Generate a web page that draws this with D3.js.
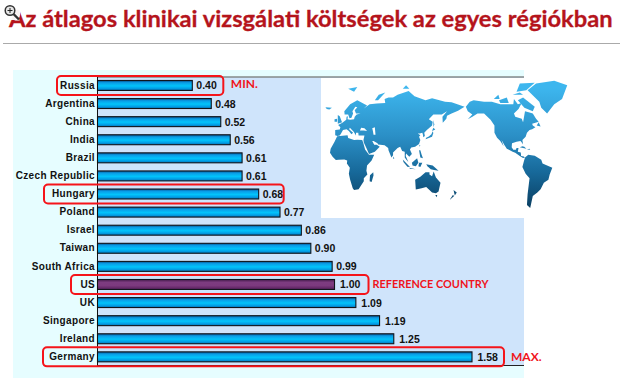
<!DOCTYPE html>
<html><head><meta charset="utf-8">
<script src="https://cdn.jsdelivr.net/npm/d3@7/dist/d3.min.js"></script>
<style>html,body{margin:0;background:#fff}svg{display:block}</style></head>
<body><svg id="c" width="620" height="381"></svg>
<script>
const titleText = "Az átlagos klinikai vizsgálati költségek az egyes régiókban";
const categories = ["Russia","Argentina","China","India","Brazil","Czech Republic","Hungary","Poland","Israel","Taiwan","South Africa","US","UK","Singapore","Ireland","Germany"];
const values = [0.40,0.48,0.52,0.56,0.61,0.61,0.68,0.77,0.86,0.90,0.99,1.00,1.09,1.19,1.25,1.58];
const referenceCountry = "US";
const highlighted = ["Russia","Hungary","US","Germany"];
const notes = {Russia:"MIN.",US:"REFERENCE COUNTRY",Germany:"MAX."};

// rough coastlines, [longitude, latitude]
const easternLand = [
 [[-9,37],[-9,43],[-2,43.5],[-1,46],[-4.5,48.5],[2,51],[8,54],[8.5,57],[10.5,57.5],[10,54.5],[14,54],[20,54.5],[21,57],[24,59],[30,60],[23,60],[21,63],[25,65.5],[22,65.8],[17.5,62],[18.5,60],[16,56],[13,55.5],[11,59],[5.5,59],[5,62],[14,68],[25,71],[40,67],[35,64.5],[44,68],[55,68.5],[68,69],[67,72],[73,73],[80,73],[87,75],[104,77.5],[113,74],[130,71],[140,72.5],[160,70],[170,69.5],[190,66],[180,62.5],[170,60],[163,58],[162,55],[156.5,51],[156,57],[163,62],[155,59],[142,59],[135,54.5],[141,52],[140,48],[132,43],[128,40],[129,36],[126.5,34.5],[126,37.5],[125,40],[121,39],[118,39],[122,37],[120,35],[122,31],[120,26],[114,22.5],[108,21.5],[106,19],[109,13],[105,9],[100,13.5],[99.5,10],[103.5,2],[100.5,5],[98,8],[98,16],[94,17],[91,22.5],[87,21],[80,15],[80,11],[77.5,8],[73,18],[72.5,21],[67,24.5],[57,25.5],[56,27],[50,30],[48,30],[51,25],[55,25],[59.5,22.5],[52,16],[43,12.8],[39,21],[35,28],[34.5,31],[36,36.5],[27,36.5],[26.5,40],[23,40],[23,36.5],[19.5,41],[13.5,45.5],[12.5,44],[18.5,40],[16,38],[12,42],[8.5,44],[3,43],[0,39],[-2,36.7],[-5.5,36]],
 [[-6,35.8],[10,37],[11,33.5],[20,31],[25,31.5],[32.5,31],[34,28],[37,19],[43,12],[51,12],[47,4],[40,-3],[39,-10],[40.5,-15],[35,-20],[35,-24],[32,-28],[27,-34],[20,-35],[18,-33],[14,-22],[12,-14],[13.5,-6],[9,0],[9.5,4],[5,5.5],[-4,5],[-8,4.5],[-13,9],[-17,14.5],[-16,20],[-10,29]],
 [[114,-22],[122,-18],[130,-12],[136,-12],[136,-15],[140,-17.5],[142.5,-11],[146,-19],[153,-26],[150,-37],[146,-39],[140,-38],[136,-35],[131,-31.5],[124,-33],[115,-34.5]],
 [[49.5,-12],[50,-16],[47,-25],[44,-24],[44.5,-16]],
 [[130,32],[135,33.5],[140,35],[142,39.5],[141,41.5],[139,38],[135,35.5],[131,34]],
 [[140,42],[145,43.5],[142,45.5]],
 [[142,54],[143.5,49],[142,46],[142,50]],
 [[-5,50],[1.5,51.5],[0,54],[-2,57.5],[-5,58.5],[-5,54]],
 [[-10,52],[-6,52],[-6,55],[-10,54.5]],
 [[-24,65.5],[-14,65],[-18,63.5],[-22,64]],
 [[11,79],[25,80],[20,77]],
 [[52,71],[57,71],[68,76.5],[58,75]],
 [[95,79],[105,79],[100,81]],
 [[95,5.5],[106,-5],[102,-4.5],[96,2]],
 [[105,-6],[115,-8],[106,-7.5]],
 [[109,1],[117,7],[119,1],[115,-4],[110,-3]],
 [[120,1],[125,1],[122,-5],[119,-4]],
 [[131,-1],[141,-3],[150,-10],[143,-9],[138,-8],[133,-4]],
 [[120,18],[122,18],[124,12],[126,7],[122,8],[121,13]],
 [[121,25],[122,24],[120,22.5]],
 [[80,9.5],[82,7],[80.5,6]],
 [[145,-41],[148,-41],[147,-43.5]],
 [[173,-35],[178,-38],[175,-41.5]],
 [[172,-41],[174,-42],[167,-46.5]]
];
const westernLand = [
 [[-168,66],[-162,70],[-156,71],[-140,70],[-128,70],[-115,68],[-95,68],[-94,72],[-88,68],[-82,69],[-87,64],[-94,60],[-92,57],[-82,55],[-80,51.5],[-79,55],[-77,62],[-70,61],[-65,60],[-60,55],[-56,52],[-66,50],[-65,48],[-61,46],[-66,44],[-70,43],[-74,40],[-76,35],[-81,31],[-80,25.5],[-82,28],[-84,30],[-90,29],[-97,27],[-97.5,22],[-95,18.5],[-91,18.5],[-90,21],[-87,21],[-88,16],[-83.5,15],[-83,10],[-79,9.5],[-77,8],[-80,7.5],[-85,10],[-92,14.5],[-96,16],[-105,20],[-109,25],[-113,31],[-110,23],[-115,30],[-120,34],[-124,40],[-124,48],[-130,54],[-140,60],[-150,60],[-158,57],[-165,54.5],[-158,59],[-165,62]],
 [[-77,8],[-72,12],[-62,10.5],[-52,5],[-50,0],[-35,-6],[-39,-15],[-41,-22],[-48,-26],[-53,-34],[-58,-38],[-65,-42],[-68,-52],[-69,-55],[-74,-52],[-73,-40],[-70,-20],[-76,-14],[-81,-5],[-79,2]],
 [[-73,78],[-60,82],[-32,83.5],[-12,81],[-20,72],[-32,68],[-43,60],[-52,65],[-55,70]],
 [[-85,22],[-75,20],[-78,22.5],[-81,23]],
 [[-74,19],[-69,18.5],[-70,20]],
 [[-80,73],[-62,66],[-65,62],[-78,65],[-88,71]],
 [[-117,71],[-105,73],[-102,69],[-115,69]],
 [[-90,77],[-85,82],[-62,82.5],[-75,78]],
 [[-125,72],[-118,75],[-116,72]],
 [[-96,75],[-80,75],[-85,76.5]],
 [[-59,48],[-53,47],[-56,51.5]]
];
const inlandSeas = [
 [[48,45],[52,46],[53,37.5],[50,37.5],[49,42]],
 [[29,42.5],[31,45.5],[36,45],[40,42],[35,42.5]]
];

const svg = d3.select("#c");
const defs = svg.append("defs");
function grad(id, stops, attrs){
  const g = defs.append("linearGradient").attr("id",id).attr("x1",0).attr("x2",0).attr("y1",0).attr("y2",1);
  if(attrs) Object.entries(attrs).forEach(([k,v])=>g.attr(k,v));
  stops.forEach(s=>g.append("stop").attr("offset",s[0]).attr("stop-color",s[1]));
}
grad("barBlue",[[0,"#07508c"],[0.22,"#0a9ce6"],[0.55,"#02c4fb"],[0.8,"#029fe6"],[1,"#0572b5"]]);
grad("barRef",[[0,"#4a1d50"],[0.3,"#7d3c80"],[0.6,"#7c3a7e"],[1,"#571f5c"]]);
grad("landGrad",[[0,"#3db6ee"],[0.4,"#2b8fc6"],[0.7,"#17699a"],[1,"#0a3f62"]],{gradientUnits:"userSpaceOnUse",y1:88,y2:208,x1:0,x2:0});

// title: fitted to the reference's width
const title = svg.append("text").attr("x",9).attr("y",27).attr("font-family","Lato, 'Open Sans', sans-serif").attr("font-weight",700)
  .attr("font-size",24).attr("fill","#b5141c").attr("stroke","#b5141c").attr("stroke-width",0.3).text(titleText);
title.attr("font-size",24*604/title.node().getComputedTextLength());
svg.append("line").attr("x1",3).attr("x2",620).attr("y1",43.5).attr("y2",43.5).attr("stroke","#aaa").attr("stroke-width",1);

// magnifier icon
const icon = svg.append("g");
icon.append("rect").attr("x",3).attr("y",3).attr("width",17).attr("height",17).attr("fill","#fff").attr("opacity",.95).attr("rx",5);
icon.append("circle").attr("cx",10).attr("cy",10.5).attr("r",4.8).attr("fill","#e8e8e8").attr("stroke","#333").attr("stroke-width",1.5);
icon.append("path").attr("d","M7.5 10.5H12.5M10 8V13").attr("stroke","#222").attr("stroke-width",1);
icon.append("line").attr("x1",13.5).attr("y1",14).attr("x2",19).attr("y2",19.5).attr("stroke","#333").attr("stroke-width",2.4);

// panel
svg.append("rect").attr("x",13).attr("y",70).attr("width",511).attr("height",308).attr("fill","#e6fdff");
const x = d3.scaleLinear().domain([0,1.58]).range([97.5,472]);
const y = d3.scaleBand().domain(categories).range([76.5,365.8]).paddingInner(0.45).paddingOuter(0.22);
svg.append("rect").attr("x",97).attr("y",77).attr("width",427).attr("height",288).attr("fill","#cfe4fb");
svg.append("line").attr("x1",97).attr("x2",524).attr("y1",77).attr("y2",77).attr("stroke","#858a8a").attr("stroke-width",1.6);
svg.append("line").attr("x1",97).attr("x2",524).attr("y1",365.5).attr("y2",365.5).attr("stroke","#222").attr("stroke-width",1);

// map
svg.append("rect").attr("x",321).attr("y",78).attr("width",203).attr("height",140).attr("fill","#fff");
const mapX = d3.scaleLinear().domain([-17,343]).range([330,564]);
const miller = lat => 1.25*Math.log(Math.tan(Math.PI/4+0.4*lat*Math.PI/180));
const mapY = d3.scaleLinear().domain([0,1]).range([163.4,121.7]);
const lineE = d3.line().x(d=>mapX(d[0])).y(d=>mapY(miller(d[1]))).curve(d3.curveLinearClosed);
const lineW = d3.line().x(d=>mapX(d[0]+360)).y(d=>mapY(miller(d[1]))).curve(d3.curveLinearClosed);
svg.append("g").selectAll("path").data(easternLand).join("path").attr("d",lineE).attr("fill","url(#landGrad)");
svg.append("g").selectAll("path").data(westernLand).join("path").attr("d",lineW).attr("fill","url(#landGrad)");
svg.append("g").selectAll("path").data(inlandSeas).join("path").attr("d",lineE).attr("fill","#fff");

// bars
const rows = categories.map((c,i)=>({c,v:values[i]}));
svg.append("g").selectAll("rect").data(rows).join("rect")
  .attr("x",x(0)).attr("y",d=>y(d.c)).attr("width",d=>x(d.v)-x(0)).attr("height",y.bandwidth())
  .attr("fill",d=>d.c===referenceCountry?"url(#barRef)":"url(#barBlue)")
  .attr("stroke","#10151c").attr("stroke-width",1.1);
svg.append("g").selectAll("text").data(rows).join("text")
  .attr("x",d=>x(d.v)+(d.v>=1?5.5:4)).attr("y",d=>y(d.c)+y.bandwidth()/2+4)
  .attr("font-family","'Liberation Sans',Arial,sans-serif").attr("font-weight",700).attr("font-size",10.5).attr("fill","#111")
  .text(d=>d.v.toFixed(2));

// category axis
const axis = svg.append("g").attr("transform","translate(97,0)").call(d3.axisLeft(y).tickSize(0).tickPadding(2));
axis.select(".domain").attr("stroke","#111").attr("stroke-width",1);
axis.selectAll("text").attr("font-family","'Liberation Sans',Arial,sans-serif").attr("font-weight",700).attr("font-size",10)
  .attr("letter-spacing",0.35).attr("fill","#111");

// highlight frames
const frameLeft = {Russia:57,Hungary:44,US:71,Germany:43};
const frameRight = {Russia:31,Hungary:25,US:34,Germany:32};
svg.append("g").selectAll("rect").data(rows.filter(d=>highlighted.includes(d.c))).join("rect")
  .attr("x",d=>frameLeft[d.c]).attr("y",d=>y(d.c)+y.bandwidth()/2-9.5)
  .attr("width",d=>x(d.v)+frameRight[d.c]-frameLeft[d.c]).attr("height",19).attr("rx",4)
  .attr("fill","none").attr("stroke","#f5141a").attr("stroke-width",2);

// notes
svg.append("g").selectAll("text").data(rows.filter(d=>notes[d.c])).join("text")
  .attr("x",d=>x(d.v)+(d.c==="US"?38:d.c==="Germany"?39:38.5)).attr("y",d=>y(d.c)+y.bandwidth()/2+(d.c==="Russia"?3:4))
  .attr("font-family","Lato, sans-serif").attr("font-weight",700).attr("font-size",d=>d.c==="US"?10.9:12).attr("fill","#f0141c")
  .text(d=>notes[d.c]);
</script></body></html>
